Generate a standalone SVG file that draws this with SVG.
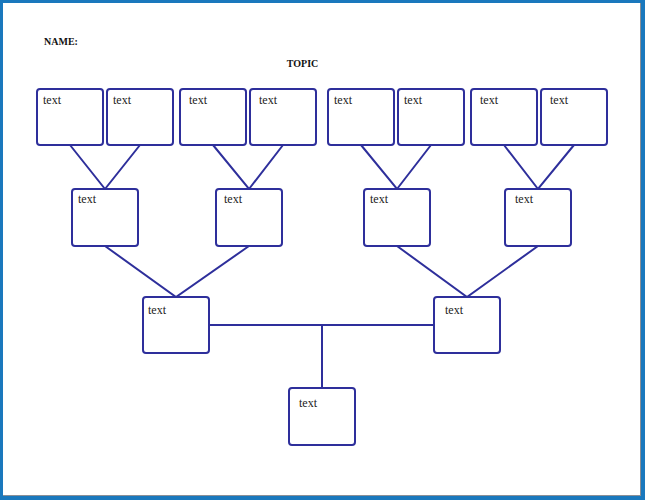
<svg xmlns="http://www.w3.org/2000/svg" width="645" height="500" viewBox="0 0 645 500">
<style>
.box{fill:#fff;stroke:#2e2f9b;stroke-width:2}
.t{font-family:"Liberation Serif",serif;font-size:12px;fill:#222}
.h{font-family:"Liberation Serif",serif;font-size:10px;font-weight:bold;fill:#111}
.c{stroke:#2e2f9b;stroke-width:2;fill:none}
</style>
<rect x="0" y="0" width="645" height="500" fill="#1a78bd"/>
<rect x="3" y="3" width="638" height="493" fill="#8a8f96"/>
<rect x="3" y="3" width="637" height="492" fill="#fff"/>
<text class="h" x="44" y="45">NAME:</text>
<text class="h" x="302.5" y="67" text-anchor="middle">TOPIC</text>
<g id="connectors">
<path class="c" d="M70,145 L105,189 L140,145"/>
<path class="c" d="M213,145 L249,189 L283,145"/>
<path class="c" d="M361,145 L397,189 L431,145"/>
<path class="c" d="M504,145 L538,189 L574,145"/>
<path class="c" d="M105,246 L176,297 L249,246"/>
<path class="c" d="M397,246 L467,297 L538,246"/>
<path class="c" d="M209,325 L434,325"/>
<path class="c" d="M322,325 L322,388"/>
</g>
<g id="n1"><rect class="box" x="37" y="89" width="66" height="56" rx="3"/><text class="t" x="43" y="104">text</text></g>
<g id="n2"><rect class="box" x="107" y="89" width="66" height="56" rx="3"/><text class="t" x="113" y="104">text</text></g>
<g id="n3"><rect class="box" x="180" y="89" width="66" height="56" rx="3"/><text class="t" x="189" y="104">text</text></g>
<g id="n4"><rect class="box" x="250" y="89" width="66" height="56" rx="3"/><text class="t" x="259" y="104">text</text></g>
<g id="n5"><rect class="box" x="328" y="89" width="66" height="56" rx="3"/><text class="t" x="334" y="104">text</text></g>
<g id="n6"><rect class="box" x="398" y="89" width="66" height="56" rx="3"/><text class="t" x="404" y="104">text</text></g>
<g id="n7"><rect class="box" x="471" y="89" width="66" height="56" rx="3"/><text class="t" x="480" y="104">text</text></g>
<g id="n8"><rect class="box" x="541" y="89" width="66" height="56" rx="3"/><text class="t" x="550" y="104">text</text></g>
<g id="m1"><rect class="box" x="72" y="189" width="66" height="57" rx="3"/><text class="t" x="78" y="203">text</text></g>
<g id="m2"><rect class="box" x="216" y="189" width="66" height="57" rx="3"/><text class="t" x="224" y="203">text</text></g>
<g id="m3"><rect class="box" x="364" y="189" width="66" height="57" rx="3"/><text class="t" x="370" y="203">text</text></g>
<g id="m4"><rect class="box" x="505" y="189" width="66" height="57" rx="3"/><text class="t" x="515" y="203">text</text></g>
<g id="b1"><rect class="box" x="143" y="297" width="66" height="56" rx="3"/><text class="t" x="148" y="314">text</text></g>
<g id="b2"><rect class="box" x="434" y="297" width="66" height="56" rx="3"/><text class="t" x="445" y="314">text</text></g>
<g id="root"><rect class="box" x="289" y="388" width="66" height="57" rx="3"/><text class="t" x="299" y="407">text</text></g>
</svg>
